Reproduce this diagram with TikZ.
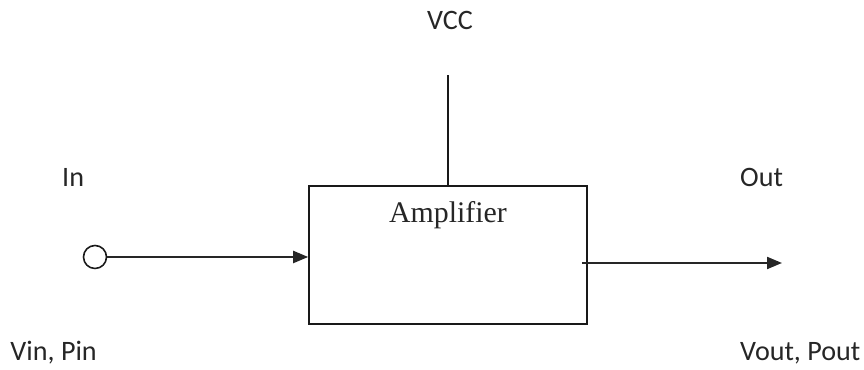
\documentclass[tikz,border=0pt]{standalone}
\usepackage{fontspec}
\setmainfont{Carlito}
\newfontfamily\timesfont{Liberation Serif}
\usepackage{xcolor}
\usepackage{tikz}
\usetikzlibrary{positioning,arrows.meta,calc}

\begin{document}
\begin{tikzpicture}[
    ampbox/.style={draw, gray!20!black, line width=0.9pt, minimum width=5.56cm, minimum height=2.76cm, inner sep=0pt},
    pinlabel/.style={font=\fontsize{16}{19}\selectfont, black!85},
    arr/.style={line width=1.2pt, black!85, -{Triangle[length=0.3cm, width=0.24cm]}},
]
\useasboundingbox (0,0) rectangle (17.28,7.4);

\node[ampbox] (amp) at (8.96, 2.30) {};
\node[below=0.32cm of amp.north, inner sep=0pt, font=\timesfont\fontsize{17}{20}\selectfont, black!85] (name) {Amplifier};

% supply
\coordinate (vcc) at ($(amp.north)+(0,2.2)$);
\draw[line width=0.9pt, gray!20!black] (amp.north) -- (vcc);
\node[pinlabel, anchor=base] (vcclabel) at ($(vcc)+(0.04,0.92)$) {VCC};

% input
\node[draw, circle, line width=0.9pt, gray!20!black, minimum size=0.46cm, inner sep=0pt] (in) at (1.9, 2.26) {};
\draw[arr] (in) -- (in -| amp.west);
\node[pinlabel, anchor=base west] (inlabel) at (1.12, 3.66) {In};
\node[pinlabel, anchor=base east] (inval) at (2.06, 0.18) {Vin, Pin};

% output
\coordinate (outtip) at (15.64, 2.14);
\draw[arr] ([xshift=-0.12cm]amp.east |- outtip) -- (outtip);
\node[pinlabel, anchor=base west] (outlabel) at (14.68, 3.66) {Out};
\node[pinlabel, anchor=base west] (outval) at (14.68, 0.18) {Vout, Pout};
\end{tikzpicture}
\end{document}
